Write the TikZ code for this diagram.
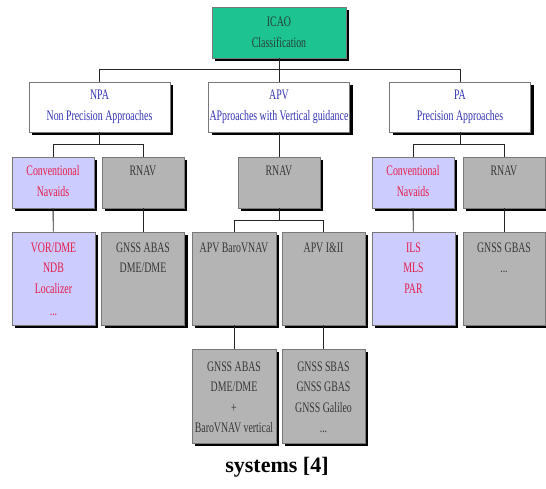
\documentclass[tikz,border=0pt]{standalone}
\usepackage{fontspec}
\setmainfont{Liberation Serif}
\newfontfamily\condfont[FakeStretch=0.68]{Liberation Serif}
\usetikzlibrary{shadows}
\definecolor{icaogreen}{RGB}{29,196,145}
\definecolor{boxline}{RGB}{120,120,120}
\definecolor{bluetext}{RGB}{51,51,178}
\definecolor{lavender}{RGB}{204,204,255}
\definecolor{redtext}{RGB}{228,28,72}
\definecolor{grayfill}{RGB}{180,180,180}
\definecolor{graytext}{RGB}{55,55,55}
\definecolor{icaotext}{RGB}{40,60,55}
\newcommand{\boxtext}[4]{\parbox[c][#2][t]{#1}{\centering\vspace*{#3}#4\par}}
\tikzset{
  box/.style={draw=boxline, line width=0.7pt, inner sep=0pt, align=center,
    drop shadow={shadow xshift=3pt, shadow yshift=-3pt, fill=black, opacity=1},
    font=\condfont\fontsize{14.5}{20.5}\selectfont},
  icaobox/.style={box, fill=icaogreen, text=icaotext, minimum width=134pt, minimum height=51pt},
  catbox/.style={box, fill=white, text=bluetext, minimum width=141pt, minimum height=50pt,
    font=\condfont\fontsize{14.5}{21.5}\selectfont},
  convbox/.style={box, fill=lavender, text=redtext},
  rnavbox/.style={box, fill=grayfill, text=graytext},
  conn/.style={draw=black!85, line width=0.9pt}
}
\begin{document}
\begin{tikzpicture}[x=1pt, y=-1pt]
\useasboundingbox (0,0) rectangle (546,488);
% level 1
\node[icaobox] (icao) at (279,32.5) {ICAO\\Classification};
% level 2
\node[catbox] (npa) at (99.5,107) {NPA\\Non Precision Approaches};
\node[catbox] (apv) at (279,107) {APV\\APproaches with Vertical guidance};
\node[catbox] (pa) at (460,107) {PA\\Precision Approaches};
% level 3
\node[convbox] (c1) at (53,182.5) {\boxtext{82pt}{51pt}{8.5pt}{Conventional\\Navaids}};
\node[rnavbox] (r1) at (143,182.5) {\boxtext{82pt}{51pt}{8.5pt}{RNAV}};
\node[rnavbox] (r2) at (279,182.5) {\boxtext{82pt}{51pt}{8.5pt}{RNAV}};
\node[convbox] (c3) at (413,182.5) {\boxtext{82pt}{51pt}{8.5pt}{Conventional\\Navaids}};
\node[rnavbox] (r3) at (504,182.5) {\boxtext{82pt}{51pt}{8.5pt}{RNAV}};
% level 4
\node[convbox] (v1) at (53.5,278.5) {\boxtext{83pt}{93pt}{10.5pt}{VOR/DME\\NDB\\Localizer\\[2pt]...}};
\node[rnavbox] (g1) at (143,278.5) {\boxtext{83pt}{93pt}{10.5pt}{GNSS ABAS\\DME/DME}};
\node[rnavbox] (b2) at (234,278.5) {\boxtext{84pt}{93pt}{10.5pt}{APV BaroVNAV}};
\node[rnavbox] (a2) at (323.5,278.5) {\boxtext{83pt}{93pt}{10.5pt}{APV I\&II}};
\node[convbox] (v3) at (413.5,278.5) {\boxtext{83pt}{93pt}{10.5pt}{ILS\\MLS\\PAR}};
\node[rnavbox] (g3) at (504,278.5) {\boxtext{82pt}{93pt}{10.5pt}{GNSS GBAS\\...}};
% level 5
\node[rnavbox] (l5a) at (234,396) {\boxtext{84pt}{94pt}{12.5pt}{GNSS ABAS\\DME/DME\\+\\BaroVNAV vertical}};
\node[rnavbox] (l5b) at (323.5,396) {\boxtext{83pt}{94pt}{12.5pt}{GNSS SBAS\\GNSS GBAS\\GNSS Galileo\\...}};
% caption
\node[font=\bfseries\fontsize{22}{26}\selectfont] (cap) at (277,467) {systems [4]};
% connectors
\path (npa.north) ++(0,-12.5) coordinate (jt);
\draw[conn] (npa.north) -- (jt) -| (pa.north);
\draw[conn] (icao.south) -- (apv.north);
\path (c1.north) ++(0,-12) coordinate (jn);
\draw[conn] (c1.north) -- (jn) -| (r1.north);
\draw[conn] (npa.south) -- (npa.south |- jn);
\path (c3.north) ++(0,-12) coordinate (jp);
\draw[conn] (c3.north) -- (jp) -| (r3.north);
\draw[conn] (pa.south) -- (pa.south |- jp);
\draw[conn] (apv.south) -- (r2.north);
\path (b2.north) ++(0,-11) coordinate (jm);
\draw[conn] (b2.north) -- (jm) -| (a2.north);
\draw[conn] (r2.south) -- (r2.south |- jm);
\draw[conn] (c1) -- (v1);
\draw[conn] (r1) -- (g1);
\draw[conn] (c3) -- (v3);
\draw[conn] (r3) -- (g3);
\draw[conn] (b2) -- (l5a);
\draw[conn] (a2) -- (l5b);
\end{tikzpicture}
\end{document}
